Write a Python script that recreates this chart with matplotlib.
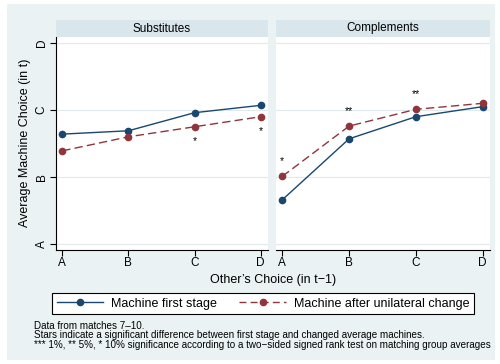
import matplotlib
matplotlib.use("Agg")
import matplotlib.pyplot as plt
from matplotlib.lines import Line2D
from matplotlib.patches import Rectangle

# Average machine choice by the other player's previous choice
choices = ["A", "B", "C", "D"]
panels = ["Substitutes", "Complements"]

first_stage_sub = [2.64, 2.69, 2.96, 3.07]
after_change_sub = [2.39, 2.60, 2.75, 2.90]
first_stage_comp = [1.66, 2.57, 2.90, 3.05]
after_change_comp = [2.01, 2.76, 3.01, 3.10]

stars_sub = ["", "", "*", "*"]
stars_comp = ["*", "**", "**", ""]

notes = [
    "Data from matches 7\u201310.",
    "Stars indicate a significant difference between first stage and changed average machines.",
    "*** 1%, ** 5%, * 10% significance according to a two\u2212sided signed rank test on matching group averages",
]

navy = "#1A476F"
maroon = "#90353B"
bg = "#EAF2F3"
strip = "#D9E6EB"
grid = "#E1E9EC"

plt.rcParams["font.family"] = ["Liberation Sans", "DejaVu Sans"]

W, H = 500, 364
fig = plt.figure(figsize=(W / 100, H / 100), dpi=100)
fig.patch.set_facecolor("white")


def box(x0, y0, x1, y1):
    # pixel box (top-left origin) -> figure fraction rect
    return [x0 / W, 1 - y1 / H, (x1 - x0) / W, (y1 - y0) / H]


# outer graph region
fig.add_artist(Rectangle((7 / W, 1 - 360 / H), 488 / W, 356 / H,
                         transform=fig.transFigure, facecolor=bg,
                         edgecolor="none", zorder=0))

series = [(first_stage_sub, after_change_sub, stars_sub),
          (first_stage_comp, after_change_comp, stars_comp)]
xs = list(range(1, len(choices) + 1))

for i, (title, (first, after, stars)) in enumerate(zip(panels, series)):
    x0 = 56 if i == 0 else 276
    x1 = 268 if i == 0 else 490
    ax = fig.add_axes(box(x0, 37, x1, 250))
    ax.set_facecolor("white")

    # strip header
    hdr = fig.add_axes(box(x0, 20, x1, 37))
    hdr.set_facecolor(strip)
    hdr.set_xticks([])
    hdr.set_yticks([])
    for s in hdr.spines.values():
        s.set_visible(False)
    hdr.text(0.5, 0.5, title, ha="center", va="center", fontsize=8.5)

    ax.plot(xs, first, color=navy, lw=1, marker="o", ms=4.5, zorder=3)
    ax.plot(xs, after, color=maroon, lw=1, ls=(0, (6, 3)), marker="o",
            ms=4.5, zorder=3)

    for x, a, b, s in zip(xs, first, after, stars):
        if not s:
            continue
        if i == 0:
            ax.annotate(s, (x, min(a, b)), xytext=(0, -10),
                        textcoords="offset points", ha="center",
                        va="center", fontsize=7.5)
        else:
            ax.annotate(s, (x, max(a, b)), xytext=(0, 11),
                        textcoords="offset points", ha="center",
                        va="center", fontsize=7.5)

    ax.set_xlim(0.905, 4.11)
    ax.set_ylim(0.91, 4.09)
    ax.set_xticks(xs)
    ax.set_xticklabels(choices, fontsize=8.5)
    ax.set_yticks(xs)
    ax.grid(axis="y", color=grid, lw=0.8)
    ax.set_axisbelow(True)
    ax.tick_params(axis="x", length=4, width=0.8, pad=1)
    for side in ["top", "right"]:
        ax.spines[side].set_visible(False)
    ax.spines["bottom"].set_linewidth(0.8)
    if i == 0:
        ax.set_yticklabels(choices, fontsize=8.5, rotation=90, va="center")
        ax.tick_params(axis="y", length=4, width=0.8, pad=2)
        ax.spines["left"].set_linewidth(0.8)
    else:
        ax.set_yticklabels([])
        ax.tick_params(axis="y", length=0)
        ax.spines["left"].set_visible(False)

fig.text(25 / W, 1 - 143 / H, "Average Machine Choice (in t)", rotation=90,
         ha="center", va="center", fontsize=9)
fig.text(273 / W, 1 - 280 / H, "Other\u2019s Choice (in t\u22121)",
         ha="center", va="center", fontsize=9)

handles = [
    Line2D([], [], color=navy, lw=1, marker="o", ms=4.5),
    Line2D([], [], color=maroon, lw=1, ls=(0, (5, 3)), marker="o", ms=4.5),
]
leg = fig.legend(handles, ["Machine first stage", "Machine after unilateral change"],
                 loc="center", bbox_to_anchor=(263 / W, 1 - 303.5 / H),
                 ncol=2, fontsize=9, frameon=True,
                 fancybox=False, edgecolor="black", facecolor="white",
                 framealpha=1, handlelength=3.7, handletextpad=0.65,
                 columnspacing=1.8, borderpad=0.35, borderaxespad=0)
leg.get_frame().set_linewidth(0.8)

for k, line in enumerate(notes):
    fig.text(34 / W, 1 - (326 + 9.5 * k) / H, line, ha="left", va="center",
             fontsize=7.1)

fig.savefig("out.png", dpi=100, facecolor=fig.get_facecolor())
